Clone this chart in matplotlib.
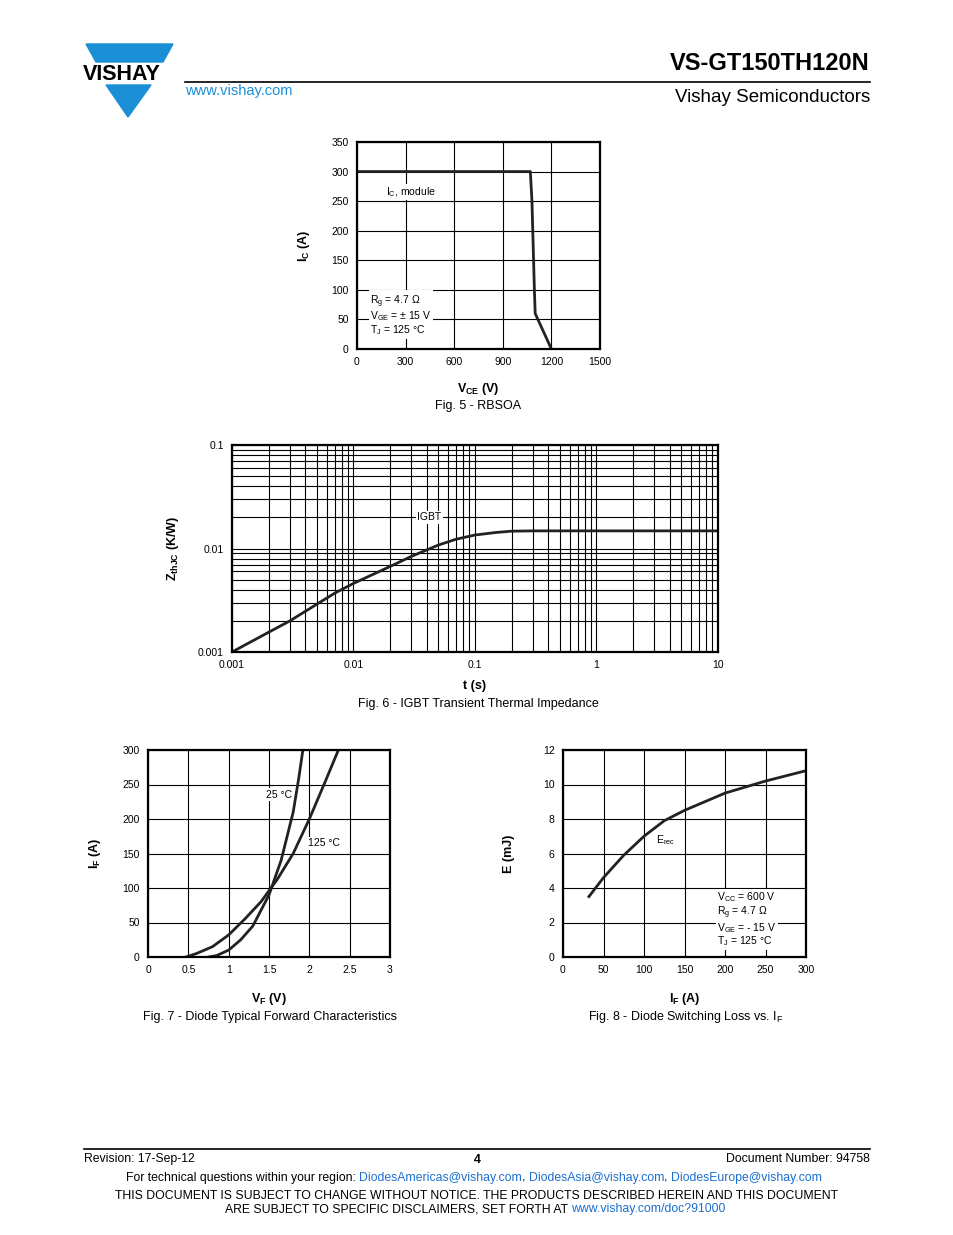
import matplotlib
matplotlib.use("Agg")
import matplotlib.pyplot as plt
from matplotlib.patches import Polygon

plt.rcParams['font.family'] = 'Liberation Sans'
plt.rcParams['mathtext.fontset'] = 'custom'
plt.rcParams['mathtext.rm'] = 'Liberation Sans'
plt.rcParams['mathtext.it'] = 'Liberation Sans'
plt.rcParams['mathtext.bf'] = 'Liberation Sans:bold'

W, H = 954, 1235
BLUE = '#1a8fd6'
LINK = '#1a6fd0'

# Fig 5 - RBSOA
rbsoa_v = [0, 1070, 1080, 1095, 1100, 1150, 1200]
rbsoa_i = [300, 300, 250, 100, 60, 30, 0]

# Fig 6 - thermal impedance
zth_t = [0.001, 0.002, 0.003, 0.005, 0.007, 0.01, 0.02, 0.03, 0.05, 0.07, 0.1, 0.15, 0.2, 0.3, 1, 10]
zth_z = [0.001, 0.00155, 0.002, 0.0029, 0.0037, 0.0046, 0.0067, 0.0084, 0.0108, 0.0123, 0.0135, 0.0143, 0.0147, 0.0148, 0.0148, 0.0148]

# Fig 7 - diode forward
vf_25 = [0.75, 0.85, 1.0, 1.15, 1.3, 1.5, 1.65, 1.8, 1.87, 1.92]
if_25 = [0, 2, 10, 25, 45, 90, 140, 210, 260, 300]
vf_125 = [0.47, 0.6, 0.8, 1.0, 1.2, 1.4, 1.6, 1.8, 2.0, 2.2, 2.36]
if_125 = [0, 5, 15, 32, 55, 80, 112, 150, 200, 255, 300]

# Fig 8 - switching loss
if_a = [32, 50, 75, 100, 125, 150, 200, 250, 300]
erec = [3.5, 4.6, 5.9, 7.0, 7.9, 8.5, 9.5, 10.2, 10.8]

fig = plt.figure(figsize=(W / 100, H / 100), dpi=100)
BOX = dict(facecolor='white', edgecolor='none', pad=1)


def add_ax(x0, y0, x1, y1):
    return fig.add_axes([x0 / W, 1 - y1 / H, (x1 - x0) / W, (y1 - y0) / H])


def ftext(x, y, s, **kw):
    return fig.text(x / W, 1 - y / H, s, **kw)


def text_run(x, y, parts, size=8.8):
    # write pieces one after another on the same line
    r = fig.canvas.get_renderer()
    for s, c in parts:
        t = ftext(x, y, s, fontsize=size, va='center', color=c)
        x += t.get_window_extent(r).width


def style(ax):
    for sp in ax.spines.values():
        sp.set_linewidth(1.6)
    ax.tick_params(length=0, labelsize=7.5, pad=6)
    ax.grid(True, color='black', linewidth=0.8)
    ax.set_axisbelow(True)


# header
fig.patches.append(Polygon([(86 / W, 1 - 44 / H), (173 / W, 1 - 44 / H), (163 / W, 1 - 62 / H), (96 / W, 1 - 62 / H)],
                           closed=True, transform=fig.transFigure, color=BLUE))
fig.patches.append(Polygon([(106 / W, 1 - 85 / H), (151 / W, 1 - 85 / H), (128 / W, 1 - 117 / H)],
                           closed=True, transform=fig.transFigure, color=BLUE))
ftext(83, 74, 'VISHAY', fontsize=15.5, fontweight='bold', va='center', ha='left')
ftext(185, 91, 'www.vishay.com', fontsize=10.5, color=BLUE, va='center')
fig.add_artist(plt.Line2D([185 / W, 870 / W], [1 - 82 / H, 1 - 82 / H], color='black', lw=1.2))
ftext(870, 64, 'VS-GT150TH120N', fontsize=17, fontweight='bold', ha='right', va='center')
ftext(870, 98, 'Vishay Semiconductors', fontsize=13.5, ha='right', va='center')

# Fig 5
ax = add_ax(357, 142, 600, 349)
ax.plot(rbsoa_v, rbsoa_i, color='#222222', lw=2)
ax.set_xlim(0, 1500)
ax.set_ylim(0, 350)
ax.set_xticks(range(0, 1501, 300))
ax.set_yticks(range(0, 351, 50))
style(ax)
ax.set_ylabel('$\\mathbf{I_C}$ (A)', fontsize=9, fontweight='bold', labelpad=14)
ax.set_xlabel('$\\mathbf{V_{CE}}$ (V)', fontsize=9, fontweight='bold', labelpad=10)
ax.text(180, 265, '$\\mathregular{I_C}$, module', fontsize=7.5, ha='left', va='center', bbox=BOX)
ax.text(80, 20, '$\\mathregular{R_g}$ = 4.7 Ω\n$\\mathregular{V_{GE}}$ = ± 15 V\n$\\mathregular{T_J}$ = 125 °C',
        fontsize=7.5, ha='left', va='bottom', linespacing=1.0, bbox=BOX)
ftext(478, 406, 'Fig. 5 - RBSOA', fontsize=9, ha='center', va='center')

# Fig 6
ax = add_ax(232, 445, 718, 652)
ax.loglog(zth_t, zth_z, color='#222222', lw=2)
ax.set_xlim(0.001, 10)
ax.set_ylim(0.001, 0.1)
ax.set_xticks([0.001, 0.01, 0.1, 1, 10], ['0.001', '0.01', '0.1', '1', '10'])
ax.set_yticks([0.001, 0.01, 0.1], ['0.001', '0.01', '0.1'])
style(ax)
ax.grid(True, which='minor', color='black', linewidth=0.8)
ax.tick_params(which='minor', length=0)
ax.set_ylabel('$\\mathbf{Z_{thJC}}$ (K/W)', fontsize=9, fontweight='bold', labelpad=12)
ax.set_xlabel('t (s)', fontsize=9, fontweight='bold', labelpad=7)
ax.text(0.042, 0.02, 'IGBT', fontsize=7.5, ha='center', va='center', bbox=BOX)
ftext(478, 704, 'Fig. 6 - IGBT Transient Thermal Impedance', fontsize=9, ha='center', va='center')

# Fig 7
ax = add_ax(148, 750, 390, 957)
ax.plot(vf_25, if_25, color='#222222', lw=2)
ax.plot(vf_125, if_125, color='#222222', lw=2)
ax.set_xlim(0, 3)
ax.set_ylim(0, 300)
ax.set_xticks([0, 0.5, 1, 1.5, 2, 2.5, 3], ['0', '0.5', '1', '1.5', '2', '2.5', '3'])
ax.set_yticks(range(0, 301, 50))
style(ax)
ax.set_ylabel('$\\mathbf{I_F}$ (A)', fontsize=9, fontweight='bold', labelpad=14)
ax.set_xlabel('$\\mathbf{V_F}$ (V)', fontsize=9, fontweight='bold', labelpad=11)
ax.text(1.62, 235, '25 °C', fontsize=7.5, ha='center', va='center', bbox=BOX)
ax.text(2.18, 165, '125 °C', fontsize=7.5, ha='center', va='center', bbox=BOX)
ftext(270, 1017, 'Fig. 7 - Diode Typical Forward Characteristics', fontsize=9, ha='center', va='center')

# Fig 8
ax = add_ax(563, 750, 806, 957)
ax.plot(if_a, erec, color='#222222', lw=2)
ax.set_xlim(0, 300)
ax.set_ylim(0, 12)
ax.set_xticks(range(0, 301, 50))
ax.set_yticks(range(0, 13, 2))
style(ax)
ax.set_ylabel('E (mJ)', fontsize=9, fontweight='bold', labelpad=20)
ax.set_xlabel('$\\mathbf{I_F}$ (A)', fontsize=9, fontweight='bold', labelpad=11)
ax.text(115, 6.8, '$\\mathregular{E_{rec}}$', fontsize=7.5, ha='left', va='center', bbox=BOX)
ax.text(190, 0.5, '$\\mathregular{V_{CC}}$ = 600 V\n$\\mathregular{R_g}$ = 4.7 Ω\n$\\mathregular{V_{GE}}$ = - 15 V\n$\\mathregular{T_J}$ = 125 °C',
        fontsize=7.5, ha='left', va='bottom', linespacing=1.0, bbox=BOX)
ftext(686, 1017, 'Fig. 8 - Diode Switching Loss vs. $\\mathregular{I_F}$', fontsize=9, ha='center', va='center')

# footer
fig.add_artist(plt.Line2D([84 / W, 870 / W], [1 - 1149 / H, 1 - 1149 / H], color='black', lw=1.2))
ftext(84, 1159, 'Revision: 17-Sep-12', fontsize=8.8, va='center')
ftext(477, 1160, '4', fontsize=8.8, fontweight='bold', ha='center', va='center')
ftext(870, 1159, 'Document Number: 94758', fontsize=8.8, ha='right', va='center')
text_run(126, 1178, [('For technical questions within your region: ', 'black'),
                     ('DiodesAmericas@vishay.com', LINK), (', ', 'black'),
                     ('DiodesAsia@vishay.com', LINK), (', ', 'black'),
                     ('DiodesEurope@vishay.com', LINK)])
ftext(477, 1196, 'THIS DOCUMENT IS SUBJECT TO CHANGE WITHOUT NOTICE. THE PRODUCTS DESCRIBED HEREIN AND THIS DOCUMENT',
      fontsize=8.8, ha='center', va='center')
text_run(225, 1209, [('ARE SUBJECT TO SPECIFIC DISCLAIMERS, SET FORTH AT ', 'black'),
                     ('www.vishay.com/doc?91000', LINK)])

fig.savefig('out.png', dpi=100)
